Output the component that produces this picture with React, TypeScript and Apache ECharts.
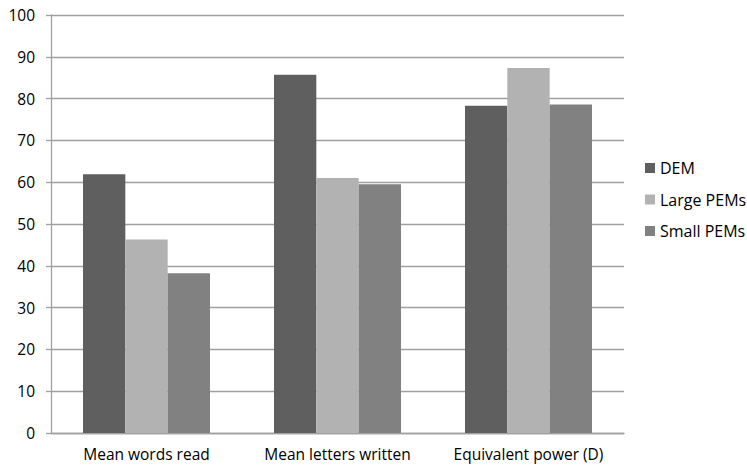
import React, { useEffect, useRef } from "react";
import * as echarts from "echarts";

const categories = ["Mean words read", "Mean letters written", "Equivalent power (D)"];
const seriesNames = ["DEM", "Large PEMs", "Small PEMs"];
const demValues = [61.9, 85.7, 78.3];
const largeValues = [46.3, 61.0, 87.3];
const smallValues = [38.2, 59.5, 78.6];
const seriesColors = ["#5f5f5f", "#b2b2b2", "#818181"];
const yTicks = { min: 0, max: 100, interval: 10 };

export default function App() {
  const ref = useRef<HTMLDivElement>(null);
  useEffect(() => {
    if (!ref.current) return;
    const chart = echarts.init(ref.current, null, { renderer: "svg" });
    const values = [demValues, largeValues, smallValues];
    const font = "'Open Sans', 'Liberation Sans', sans-serif";
    chart.setOption({
      animation: false,
      backgroundColor: "#ffffff",
      grid: { left: 51, right: 123, top: 15, bottom: 33, containLabel: false },
      legend: {
        orient: "vertical",
        left: 645,
        top: 159,
        padding: 0,
        itemWidth: 10,
        itemHeight: 10,
        itemGap: 13.5,
        icon: "rect",
        textStyle: { fontFamily: font, fontSize: 16, color: "#000", lineHeight: 18 },
        data: seriesNames,
      },
      xAxis: {
        type: "category",
        data: categories,
        axisLine: { lineStyle: { color: "#a0a0a0", width: 1.3 } },
        axisTick: { show: false },
        axisLabel: { fontFamily: font, fontSize: 15.5, color: "#000", margin: 13, interval: 0, hideOverlap: false },
      },
      yAxis: {
        type: "value",
        min: yTicks.min,
        max: yTicks.max,
        interval: yTicks.interval,
        axisLine: { show: true, lineStyle: { color: "#a0a0a0", width: 1.3 } },
        axisTick: { show: true, length: 5, lineStyle: { color: "#a0a0a0", width: 1.3 } },
        splitLine: { lineStyle: { color: "#a0a0a0", width: 1.3 } },
        axisLabel: { fontFamily: font, fontSize: 15.5, color: "#000", margin: 16 },
      },
      series: seriesNames.map((name, i) => ({
        name,
        type: "bar",
        data: values[i],
        barGap: "0%",
        barCategoryGap: "33.5%",
        itemStyle: { color: seriesColors[i] },
      })),
    });
    return () => chart.dispose();
  }, []);
  return (
    <div
      ref={ref}
      style={{ position: "fixed", left: 0, top: 0, width: 747, height: 466, background: "#fff" }}
    />
  );
}
